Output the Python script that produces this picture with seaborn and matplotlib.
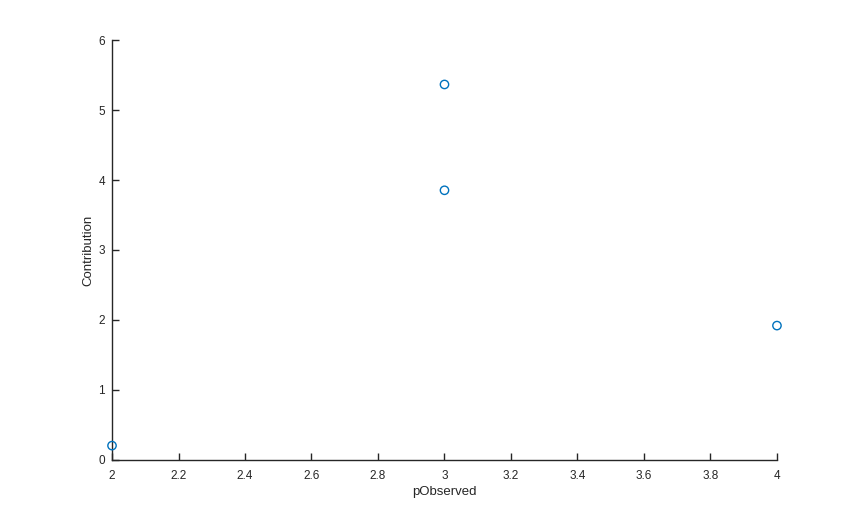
import matplotlib
matplotlib.use("Agg")
import matplotlib.pyplot as plt
import seaborn as sns
import pandas as pd

p_observed = [2, 3, 3, 4]
contribution = [0.205, 5.365, 3.853, 1.92]
x_ticks = [2, 2.2, 2.4, 2.6, 2.8, 3, 3.2, 3.4, 3.6, 3.8, 4]
y_ticks = [0, 1, 2, 3, 4, 5, 6]

sns.set_style("white")
plt.rcParams['font.family'] = ['Liberation Sans', 'DejaVu Sans']

df = pd.DataFrame({"pObserved": p_observed, "Contribution": contribution})

fig = plt.figure(figsize=(8.59, 5.17), dpi=100)
ax = fig.add_axes([0.1304, 0.1103, 0.7741, 0.8123])
sns.scatterplot(data=df, x="pObserved", y="Contribution", ax=ax,
                marker="o", s=36, facecolor="none", edgecolor="#0072BD",
                linewidth=1.0, clip_on=False, zorder=3)
ax.set_xlim(2, 4)
ax.set_ylim(0, 6)
ax.set_xticks(x_ticks)
ax.set_xticklabels([f"{t:g}" for t in x_ticks])
ax.set_yticks(y_ticks)
ax.set_yticklabels([str(t) for t in y_ticks])
for s in ["top", "right"]:
    ax.spines[s].set_visible(False)
for s in ["left", "bottom"]:
    ax.spines[s].set_color("#262626")
    ax.spines[s].set_linewidth(1.0)
ax.tick_params(direction="in", length=5, width=1, color="#262626",
               labelsize=8.5, labelcolor="#262626",
               left=True, bottom=True)
ax.tick_params(axis="x", pad=7)
ax.tick_params(axis="y", pad=5)
ax.set_xlabel("pObserved", fontsize=9.5, color="#262626", labelpad=3)
ax.set_ylabel("Contribution", fontsize=9.5, color="#262626", labelpad=3)
fig.savefig("out.png", dpi=100)
